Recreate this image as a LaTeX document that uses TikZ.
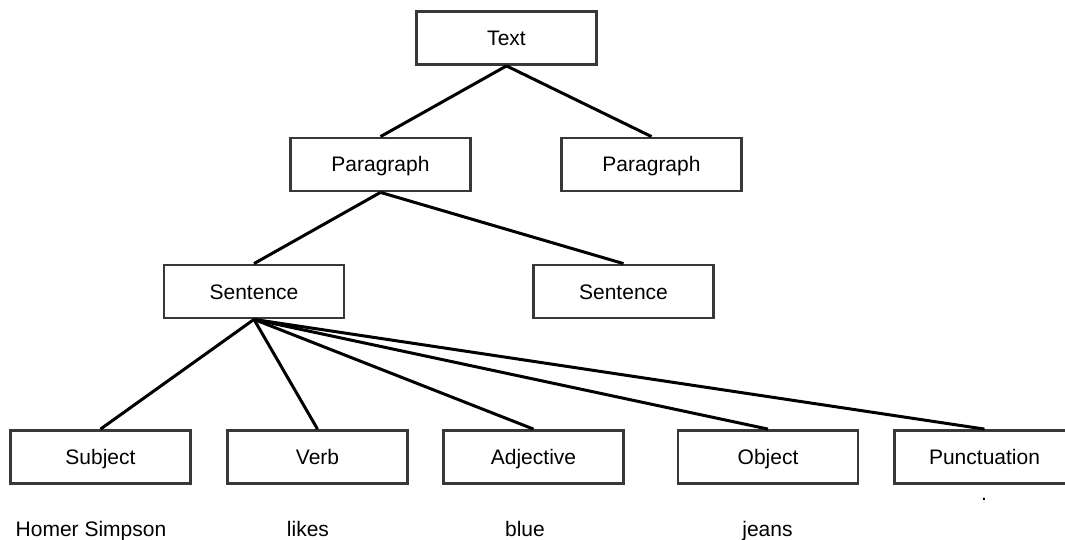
\documentclass[tikz,border=0pt]{standalone}
\usepackage{fontspec}
\setmainfont{Liberation Sans}
\begin{document}
\begin{tikzpicture}[x=1pt,y=-1pt,
  label text/.style={font=\fontsize{21}{25}\selectfont,text height=19pt,text depth=4pt},
  box/.style={draw=black!78,line width=2.8pt,fill=white,minimum width=180pt,minimum height=53pt,inner sep=0pt,label text},
  word/.style={inner sep=0pt,label text},
  link/.style={line width=3pt,black}]
\useasboundingbox (0,0) rectangle (1065,540);
% tree of text units
\node[box] (text) at (506.5,38) {Text};
\node[box] (parA) at (380.5,164.5) {Paragraph};
\node[box] (parB) at (651.5,164.5) {Paragraph};
\node[box] (senA) at (254,291.5) {Sentence};
\node[box] (senB) at (623.5,291.5) {Sentence};
\node[box] (subj) at (100.5,457) {Subject};
\node[box] (verb) at (317.5,457) {Verb};
\node[box] (adj) at (533.5,457) {Adjective};
\node[box] (obj) at (768,457) {Object};
\node[box] (punct) at (984.5,457) {Punctuation};
% example words
\node[word] (w1) at (91,529) {Homer Simpson};
\node[word] (w2) at (308,529) {likes};
\node[word] (w3) at (525,529) {blue};
\node[word] (w4) at (767.5,529) {jeans};
\node[word] (w5) at (984,492.5) {.};
% connectors
\draw[link] (text.south) -- (parA.north);
\draw[link] (text.south) -- (parB.north);
\draw[link] (parA.south) -- (senA.north);
\draw[link] (parA.south) -- (senB.north);
\draw[link] (senA.south) -- (subj.north);
\draw[link] (senA.south) -- (verb.north);
\draw[link] (senA.south) -- (adj.north);
\draw[link] (senA.south) -- (obj.north);
\draw[link] (senA.south) -- (punct.north);
\end{tikzpicture}
\end{document}
